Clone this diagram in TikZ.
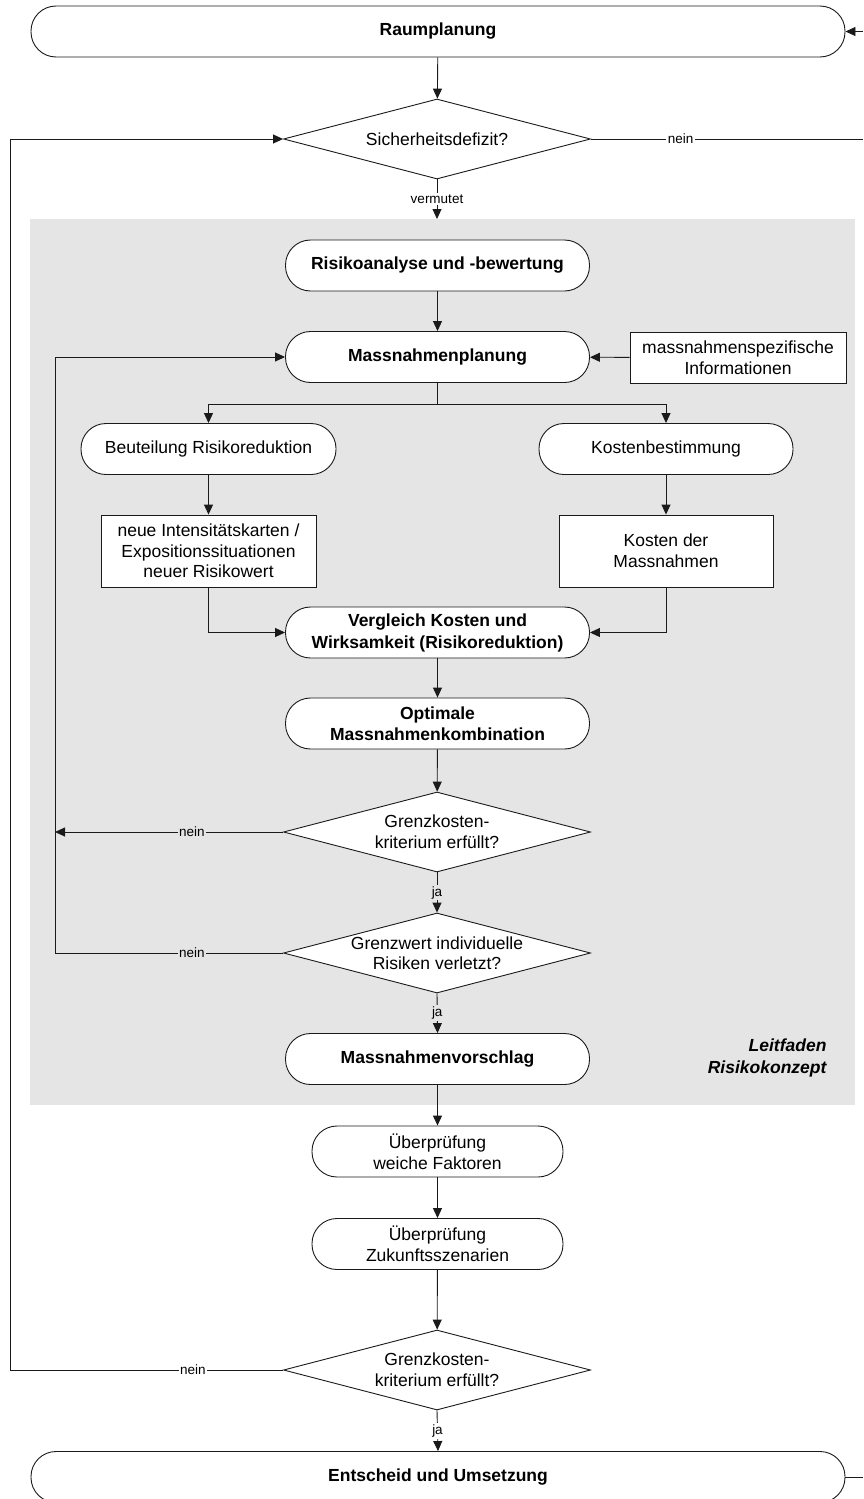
\documentclass[tikz,border=0pt]{standalone}
\usepackage{fontspec}
\setmainfont{Liberation Sans}
\usetikzlibrary{shapes.geometric,arrows.meta}
\definecolor{panel}{HTML}{E5E5E5}
\definecolor{ink}{HTML}{1A1A1A}
\begin{document}
\begin{tikzpicture}[x=1pt,y=-1pt,
  every node/.style={font=\fontsize{17.5}{21}\selectfont, align=center, text=black},
  term/.style={draw=ink, line width=0.9pt, fill=white, rounded corners=25pt, minimum height=51pt, inner sep=0pt},
  box/.style={draw=ink, line width=0.9pt, fill=white, inner sep=0pt},
  dec/.style={draw=ink, line width=0.9pt, fill=white, diamond, inner sep=0pt, minimum width=307pt, minimum height=80pt},
  lbl/.style={font=\fontsize{13.5}{16}\selectfont, inner sep=1.5pt},
  flow/.style={draw=ink, line width=0.9pt, -{Triangle[length=10pt,width=9pt]}},
  plain/.style={draw=ink, line width=0.9pt},
]
\path[use as bounding box] (0,0) rectangle (863,1499);

% shaded frame of the guideline part
\node[fill=panel, inner sep=0pt, minimum width=825pt, minimum height=886pt, anchor=north west] (panel) at (30,219) {};
\node[anchor=east, font=\fontsize{17.5}{22}\selectfont\bfseries\itshape, align=right] (lf) at (830,1058) {Leitfaden\\Risikokonzept};

% outer flow
\node[term, minimum width=814pt] (raum) at (438,31.5) {\bfseries Raumplanung};
\node[dec] (sd) at (437,139) {};
\node at (sd) {Sicherheitsdefizit?};

% guideline part
\node[term, minimum width=304pt] (risk) at (437.5,265.5) {\bfseries Risikoanalyse und -bewertung};
\node[term, minimum width=304pt] (mp) at (437.5,357) {\bfseries Massnahmenplanung};
\node[box, minimum width=216pt, minimum height=51pt] (info) at (738,357.5) {massnahmenspezifische\\Informationen};
\node[term, minimum width=255pt] (beu) at (208.5,449) {Beuteilung Risikoreduktion};
\node[term, minimum width=254pt] (kost) at (666,449) {Kostenbestimmung};
\node[box, minimum width=215pt, minimum height=72pt, font=\fontsize{17.5}{20.5}\selectfont] (neu) at (208.5,551) {neue Intensitätskarten /\\Expositionssituationen\\neuer Risikowert};
\node[box, minimum width=214pt, minimum height=72pt] (kdm) at (666,551) {Kosten der\\Massnahmen};
\node[term, minimum width=304pt, font=\fontsize{17.5}{22}\selectfont\bfseries] (verg) at (437.5,632.5) {Vergleich Kosten und\\Wirksamkeit (Risikoreduktion)};
\node[term, minimum width=304pt, font=\fontsize{17.5}{21}\selectfont\bfseries] (opt) at (437.5,723.5) {Optimale\\Massnahmenkombination};
\node[dec] (g1) at (437,832) {};
\node at (g1) {Grenzkosten-\\kriterium erfüllt?};
\node[dec] (g2) at (437,953) {};
\node[font=\fontsize{17.5}{20}\selectfont] at (g2) {Grenzwert individuelle\\Risiken verletzt?};
\node[term, minimum width=304pt] (vor) at (437.5,1059) {\bfseries Massnahmenvorschlag};

% checks and decision
\node[term, minimum width=251pt] (ueb1) at (437.5,1151.5) {Überprüfung\\weiche Faktoren};
\node[term, minimum width=251pt] (ueb2) at (437.5,1244) {Überprüfung\\Zukunftsszenarien};
\node[dec] (d3) at (437,1370) {};
\node at (d3) {Grenzkosten-\\kriterium erfüllt?};
\node[term, minimum width=814pt] (ent) at (438,1477) {\bfseries Entscheid und Umsetzung};

% loop ends and turning points
\coordinate (inR) at (863,31.5);
\coordinate (outR1) at (863,139);
\coordinate (outR2) at (863,1477);
\coordinate (Lbot) at (10,1370);
\coordinate (Ltop) at (55,357);
\coordinate (Lmid) at (55,953);

% connectors
\draw[flow] (inR) -- (raum.east);
\draw[flow] (raum) -- (sd);
\draw[plain] (sd.east) -- node[lbl, fill=white, pos=0.33] {nein} (outR1);
\draw[flow] (sd.south) -- node[lbl, fill=white] {vermutet} (sd.south |- panel.north);
\draw[flow] (risk) -- (mp);
\draw[flow] (info) -- (mp);
\draw[plain] (mp.south) -- ++(0,21) coordinate (sp);
\draw[flow] (sp) -| (beu);
\draw[flow] (sp) -| (kost);
\draw[flow] (beu) -- (neu);
\draw[flow] (kost) -- (kdm);
\draw[flow] (neu) |- (verg);
\draw[flow] (kdm) |- (verg);
\draw[flow] (verg) -- (opt);
\draw[flow] (opt) -- (g1);
\draw[flow] (g1.west) -- node[lbl, fill=panel, pos=0.4] {nein} (g1.west -| Ltop);
\draw[flow] (g1.south) -- node[lbl, fill=panel] {ja} (g2.north);
\draw[flow] (g2.west) -- node[lbl, fill=panel, pos=0.4] {nein} (Lmid) |- (mp.west);
\draw[flow] (g2.south) -- node[lbl, fill=panel] {ja} (vor.north);
\draw[flow] (vor) -- (ueb1);
\draw[flow] (ueb1) -- (ueb2);
\draw[flow] (ueb2) -- (d3);
\draw[flow] (d3.west) -- node[lbl, fill=white, pos=0.33] {nein} (Lbot) |- (sd.west);
\draw[flow] (d3.south) -- node[lbl, fill=white] {ja} (ent.north);
\draw[plain] (ent.east) -- (outR2);
\end{tikzpicture}
\end{document}
